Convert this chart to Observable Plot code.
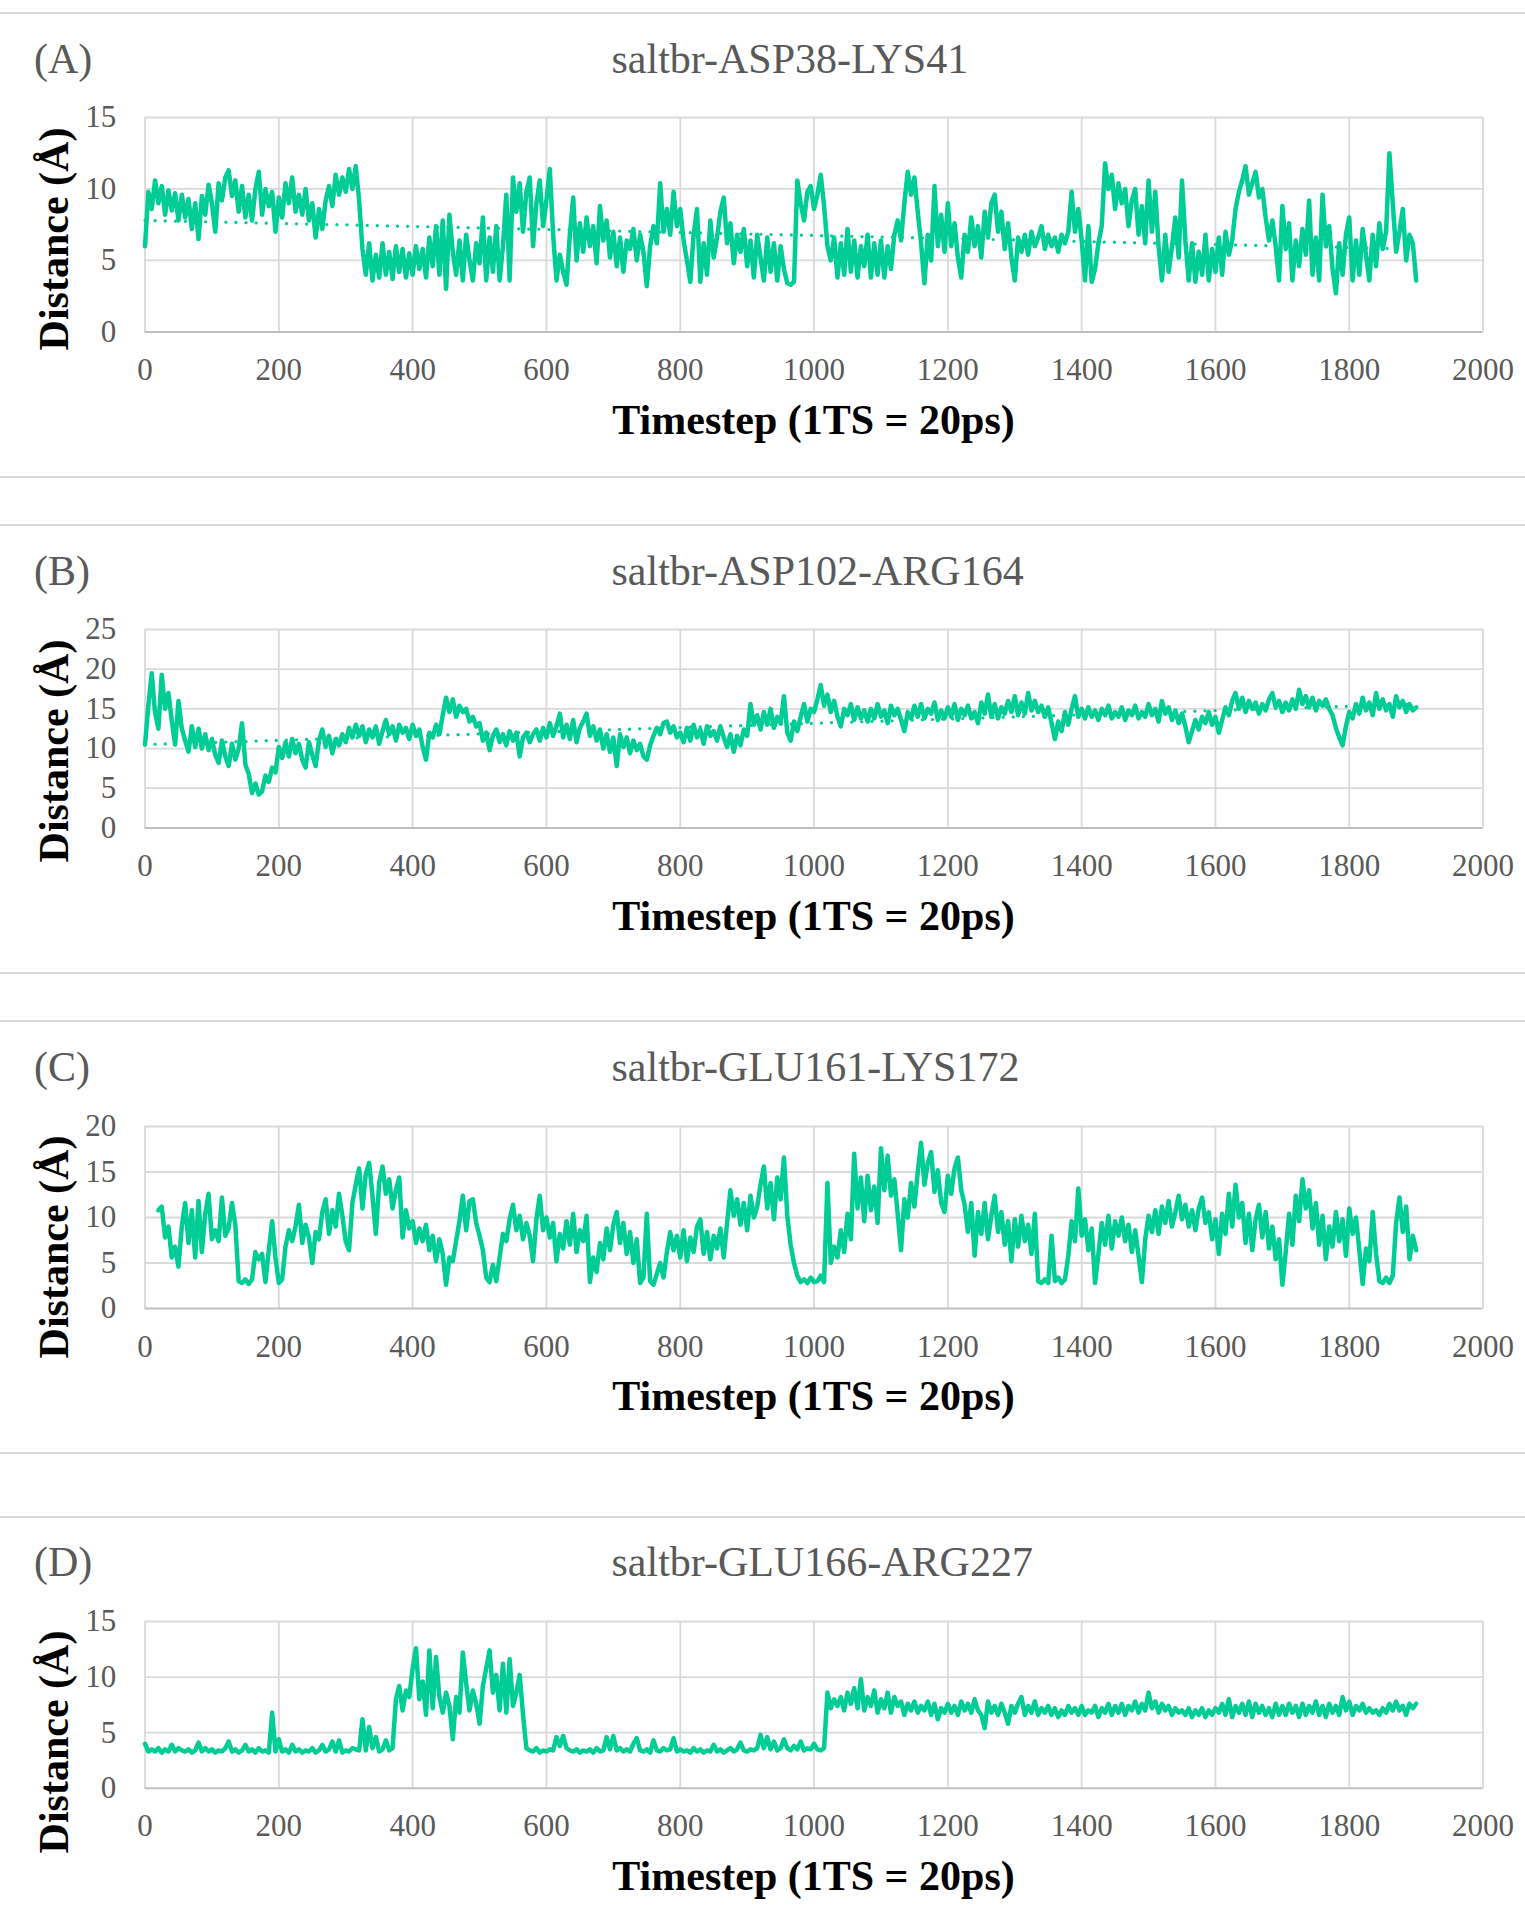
<!DOCTYPE html>
<html><head><meta charset="utf-8">
<script src="https://cdn.jsdelivr.net/npm/d3@7"></script>
<script src="https://cdn.jsdelivr.net/npm/@observablehq/plot@0.6"></script>
<style>
html,body{margin:0;padding:0;background:#fff;}
#root{position:relative;width:1525px;height:1917px;overflow:hidden;background:#fff;font-family:"Liberation Serif","Times New Roman",serif;}
.sep{position:absolute;left:0;width:1525px;height:2px;background:#d9d9d9;}
.lbl{position:absolute;font-size:42px;color:#595959;line-height:1;white-space:nowrap;}
.xt{position:absolute;font-size:42px;font-weight:bold;color:#000;line-height:1;white-space:nowrap;transform:translateX(-50%);}
.yt{position:absolute;font-size:42px;font-weight:bold;color:#000;line-height:1;white-space:nowrap;transform:translate(-50%,-50%) rotate(-90deg);}
.chart{position:absolute;left:0;}
.chart text{font-family:"Liberation Serif","Times New Roman",serif !important;font-size:31px !important;fill:#595959 !important;}
</style>
</head><body><div id="root"></div>
<script>
// ---- data (distance in Å, sampled every STEP timesteps) ----
const STEP = 5;
const xTicks = [0,200,400,600,800,1000,1200,1400,1600,1800,2000];

const titles = ["saltbr-ASP38-LYS41","saltbr-ASP102-ARG164","saltbr-GLU161-LYS172","saltbr-GLU166-ARG227"];
const panelLabels = ["(A)","(B)","(C)","(D)"];
const xTitle = "Timestep (1TS = 20ps)";
const yTitle = "Distance (Å)";

const yTicksA = [0,5,10,15];
const yTicksB = [0,5,10,15,20,25];
const yTicksC = [0,5,10,15,20];
const yTicksD = [0,5,10,15];

const startA = 0;
const distA = [
6.0,9.8,8.6,10.6,9.0,10.2,8.2,9.9,8.5,9.7,7.8,
9.6,8.0,9.3,7.2,9.0,6.5,9.5,8.2,10.3,9.0,
7.0,10.4,9.2,10.8,11.3,9.5,10.6,8.4,10.2,8.0,
9.6,7.8,10.0,11.2,8.2,10.0,8.8,9.8,7.0,9.4,
8.0,10.4,9.0,10.8,8.4,9.6,8.2,10.0,7.8,9.0,
6.6,8.6,7.2,9.2,10.2,8.8,11.0,9.6,10.8,9.8,
11.4,10.0,11.6,9.2,5.8,4.0,6.2,3.6,5.4,3.8,
6.2,4.0,5.6,3.7,6.0,4.2,5.8,3.8,5.5,4.0,
6.0,4.4,5.8,3.8,6.6,4.6,7.4,4.0,7.8,3.0,
8.2,5.6,4.0,6.4,3.6,6.8,5.0,3.6,6.2,4.8,
8.0,3.6,6.6,4.2,7.4,3.6,6.0,9.6,3.6,10.8,
8.4,10.4,7.0,9.8,10.8,6.0,9.0,10.6,7.4,9.2,
11.4,6.8,3.6,5.4,4.2,3.3,6.8,9.4,5.0,7.6,
5.6,8.0,6.0,7.4,4.8,8.8,6.4,7.8,5.2,7.0,
4.6,6.6,4.2,6.4,5.8,7.2,5.0,6.8,5.6,3.2,
6.0,7.4,6.2,10.4,7.0,8.6,6.8,9.8,7.4,8.6,
6.4,5.0,3.5,6.8,8.6,3.5,6.2,4.0,7.8,5.2,
6.6,8.4,9.4,6.2,7.6,4.8,6.8,5.6,7.2,4.6,
6.4,3.8,6.8,5.2,3.6,6.6,4.2,6.2,3.6,6.0,
4.4,3.4,3.3,3.5,10.6,9.0,7.8,9.8,10.2,8.6,
9.6,11.0,8.8,6.0,5.0,6.6,3.8,6.2,4.0,7.2,
4.2,6.4,3.8,6.0,4.6,6.8,3.8,6.2,4.0,6.4,
3.8,6.0,4.4,6.8,7.8,6.4,9.0,11.2,9.6,10.8,
8.4,6.2,3.4,6.8,5.0,10.2,6.0,8.2,5.6,9.0,
6.0,7.6,5.2,3.8,6.8,5.6,8.0,6.0,7.4,5.2,
8.4,6.6,9.0,9.6,7.0,8.4,5.8,7.6,5.2,3.6,
6.6,5.6,6.8,5.4,7.0,6.0,6.6,7.4,5.8,6.8,
6.0,6.6,5.6,6.8,6.2,7.0,9.8,7.0,8.6,6.4,
3.6,7.4,3.5,4.4,6.2,7.4,11.8,10.0,11.0,8.6,
10.4,9.0,10.0,7.4,9.2,10.0,6.8,8.8,6.2,10.6,
7.0,9.8,6.0,3.6,6.8,4.2,6.0,8.0,5.2,10.6,
6.4,3.6,6.2,3.5,5.6,4.0,6.8,3.6,5.8,4.2,
6.6,4.0,7.0,5.4,6.4,8.6,9.8,10.6,11.6,9.6,
10.4,11.2,9.4,10.0,8.0,6.4,7.8,6.0,3.6,8.8,
5.8,7.6,3.6,6.4,4.6,7.2,5.4,9.2,4.0,6.6,
3.6,9.6,6.0,7.4,4.4,2.7,6.2,4.0,6.8,8.0,
3.6,6.4,4.0,7.2,5.4,3.6,6.8,4.6,7.6,5.8,
7.0,12.5,9.0,5.6,7.0,8.6,5.0,6.8,6.2,3.6
];
const trendATs = [0,1900];
const trendAVals = [7.8,5.8];

const startB = 0;
const distB = [
10.5,15.5,19.5,14.5,12.5,19.3,15.0,17.0,13.5,10.5,16.0,
12.5,11.0,9.6,12.8,10.2,12.5,10.0,11.8,9.8,11.2,
9.2,8.2,11.0,9.0,7.8,10.6,8.6,10.0,13.2,8.0,
6.8,4.4,5.6,4.2,4.6,6.6,5.8,7.6,7.0,10.2,
8.8,10.8,9.0,11.2,9.4,10.6,8.6,7.6,10.8,9.2,
7.8,11.0,12.4,10.2,11.6,9.4,11.2,10.4,11.8,10.8,
12.6,11.4,13.0,11.6,12.8,10.8,12.4,11.4,12.8,10.6,
12.2,13.6,11.8,12.8,11.0,13.0,12.0,12.6,11.2,13.0,
11.6,12.4,10.2,8.6,12.0,11.4,13.0,11.8,14.2,16.4,
14.6,16.2,14.0,15.4,14.6,15.0,13.4,14.0,12.8,13.2,
11.0,12.0,9.8,11.6,12.4,10.8,11.8,10.4,12.2,11.0,
12.0,9.0,11.4,12.0,10.8,11.8,12.4,11.0,12.6,11.4,
13.2,11.6,12.8,14.4,11.4,13.0,11.2,13.6,10.8,12.6,
13.4,14.4,11.6,12.8,11.0,12.4,10.0,11.8,9.6,11.4,
7.8,11.8,10.2,11.4,9.4,11.0,9.8,10.6,9.0,8.6,
10.4,11.6,12.6,11.8,13.2,13.4,12.0,12.8,11.4,12.0,
10.8,12.6,11.0,13.0,11.4,12.4,10.6,12.8,11.6,12.2,
11.0,12.8,11.4,10.2,11.8,9.6,11.6,10.4,12.4,11.6,
15.6,13.0,14.2,12.4,14.6,13.0,15.0,12.6,14.0,13.2,
16.6,12.0,11.0,13.4,12.2,14.0,15.6,13.4,15.0,14.6,
16.2,18.0,15.4,16.8,14.6,16.0,14.0,12.8,15.0,14.2,
15.6,13.6,15.2,13.8,14.8,13.4,15.0,13.8,15.6,14.0,
14.8,13.2,15.4,14.2,15.0,13.6,12.2,14.6,13.8,15.4,
14.0,15.6,13.8,15.0,14.4,15.8,13.6,14.8,13.8,15.2,
14.0,15.6,13.6,15.0,14.2,15.4,13.8,14.6,13.2,15.8,
14.4,16.8,14.0,15.6,13.8,15.2,14.4,16.0,14.6,16.6,
14.2,15.8,14.4,17.0,14.8,16.0,14.6,15.4,14.0,15.2,
13.2,11.2,13.4,12.2,14.6,13.0,15.0,16.6,14.0,15.0,
13.8,15.2,14.0,14.8,13.6,15.0,14.2,15.4,13.8,14.6,
14.0,15.2,13.6,14.8,14.2,15.4,13.8,14.6,14.0,15.6,
14.2,15.0,13.4,16.0,14.4,15.2,13.6,14.8,13.2,14.4,
12.8,10.8,12.2,13.6,12.4,14.0,13.2,14.6,13.0,14.0,
12.0,13.6,15.2,14.2,16.0,17.0,15.0,16.4,14.6,16.0,
15.0,15.8,14.4,15.6,14.8,16.2,17.0,15.2,16.0,14.6,
15.8,14.8,16.2,15.0,17.4,15.6,16.6,15.2,16.4,14.8,
16.0,15.4,16.2,15.0,14.2,12.6,11.4,10.4,12.8,14.6,
13.8,15.6,14.4,16.4,14.8,15.8,14.2,17.0,15.0,16.2,
14.8,15.6,14.0,16.6,15.2,16.0,14.6,15.6,14.8,15.2
];
const trendBTs = [0,1900];
const trendBVals = [10.5,15.6];

const startC = 20;
const distC = [
10.8,11.2,7.8,9.0,5.6,6.8,4.6,9.0,11.6,7.2,10.8,5.6,11.8,6.2,10.4,12.6,7.6,
8.6,7.4,12.2,8.0,8.8,11.6,9.2,3.0,2.8,3.2,
2.7,3.2,6.2,5.4,6.0,2.9,6.4,9.6,5.6,2.8,
3.2,6.8,8.6,7.4,9.0,11.4,7.2,9.2,7.8,5.0,
8.4,7.6,10.6,12.0,8.2,10.8,9.0,12.6,10.2,7.4,
6.4,11.6,13.6,15.4,11.0,14.8,16.0,12.4,8.2,13.8,
15.6,12.6,14.2,11.0,13.0,14.4,7.8,10.8,8.8,9.6,
7.2,8.8,7.4,9.2,6.4,8.0,5.2,7.6,6.0,2.6,
5.6,5.2,7.4,9.6,12.4,8.6,11.8,12.0,9.4,8.0,
6.4,3.4,2.9,4.8,3.0,5.6,8.2,7.4,9.8,11.4,
8.6,10.2,7.6,9.4,8.0,5.2,9.8,12.4,8.6,10.0,
7.8,9.4,5.2,8.2,6.6,9.6,7.0,10.4,6.2,8.6,
7.4,10.2,2.9,5.6,4.0,7.2,5.4,8.8,6.4,9.2,
10.6,7.2,9.4,6.0,8.4,5.0,7.6,2.8,3.4,10.4,
3.0,2.6,3.8,5.0,3.4,6.2,8.4,6.4,8.0,5.6,
8.6,5.2,7.8,6.2,9.0,9.8,6.0,8.4,5.4,8.0,
6.6,8.8,5.6,9.4,13.0,10.2,12.0,9.2,11.6,8.6,
12.4,10.0,11.2,13.6,15.6,11.0,13.8,9.8,14.4,12.0,
16.6,10.2,7.0,5.0,3.6,2.9,3.2,2.8,3.4,2.9,
3.0,3.6,2.9,13.8,5.0,6.8,5.6,8.6,6.2,10.4,
7.6,17.0,11.0,14.4,9.6,14.6,10.8,13.4,9.4,17.6,
13.0,16.8,12.4,14.2,10.4,6.4,12.0,10.0,13.8,11.2,
15.0,18.2,13.6,16.0,17.2,12.8,15.2,11.6,10.6,14.6,
12.6,15.4,16.6,13.0,11.4,8.4,11.6,5.8,10.6,8.2,
11.6,7.6,10.2,12.4,8.4,10.6,7.0,9.6,5.2,9.8,
6.8,10.2,7.4,9.2,6.0,10.4,3.0,2.8,3.2,2.8,
8.0,3.0,3.4,2.8,3.2,5.8,9.6,7.4,13.2,8.0,
9.8,6.4,8.8,2.8,6.0,9.4,7.0,10.2,6.6,9.6,
8.0,10.0,7.4,9.2,6.2,8.6,5.8,2.9,7.6,10.2,
8.4,10.8,8.2,11.2,9.4,11.8,9.0,10.6,12.4,9.8,
11.4,9.0,10.8,8.6,11.0,12.2,9.4,10.6,7.6,9.8,
6.0,10.4,8.2,12.6,9.0,13.6,10.0,11.6,7.2,10.4,
6.4,9.8,11.4,7.8,10.6,6.6,9.0,5.4,7.6,2.6,
6.2,10.4,7.0,12.4,9.6,14.2,11.0,13.0,8.8,11.6,
7.0,10.2,5.4,9.0,6.8,10.6,7.4,9.8,5.8,11.0,
8.2,10.0,6.4,2.7,6.6,5.2,10.6,6.0,3.0,2.8,
3.4,2.8,3.6,9.4,12.2,8.4,11.2,5.4,8.0,6.4
];

const startD = 0;
const distD = [
4.0,3.3,3.5,3.3,3.6,3.2,3.5,3.3,3.9,3.3,
3.6,3.4,3.3,3.5,3.2,3.4,4.1,3.3,3.6,3.3,
3.5,3.2,3.4,3.3,3.6,4.2,3.3,3.5,3.2,3.4,
3.9,3.3,3.5,3.2,3.6,3.3,3.4,3.2,6.8,3.3,
4.4,3.3,3.5,3.2,3.9,3.3,3.5,3.2,3.4,3.3,
3.6,3.2,3.4,3.9,3.3,3.5,4.2,3.3,4.3,3.2,
3.4,3.3,3.6,3.5,3.4,6.2,3.4,5.5,3.6,4.6,
3.3,3.5,4.3,3.4,3.6,8.0,9.2,7.0,8.8,8.2,
10.8,12.6,8.0,9.6,6.6,12.4,7.2,11.8,8.2,6.8,
8.6,7.4,4.4,8.2,6.8,12.2,9.4,7.0,8.8,7.6,
5.8,9.2,10.8,12.4,8.6,10.2,7.0,11.2,6.8,11.6,
7.4,8.6,10.2,6.6,3.6,3.4,3.3,3.6,3.2,3.4,
3.3,3.5,3.4,4.6,3.8,4.7,3.6,3.4,3.3,3.5,
3.2,3.4,3.3,3.5,3.2,3.6,3.3,3.4,4.6,3.5,
4.7,3.4,3.6,3.3,3.5,3.3,4.0,4.5,3.4,3.3,
3.5,3.2,4.3,3.4,3.3,3.6,3.4,3.5,4.5,3.3,
3.5,3.3,3.4,3.2,3.6,3.3,3.5,3.2,3.4,3.3,
3.9,3.3,3.5,3.2,3.4,3.6,3.3,3.5,4.1,3.4,
3.3,3.5,3.4,3.6,4.8,3.6,4.6,3.5,4.2,3.4,
3.6,4.4,3.6,3.4,3.8,3.5,4.2,3.4,3.6,3.5,
4.0,3.5,3.4,3.6,8.6,7.2,8.0,7.4,8.2,7.0,
8.6,7.6,9.0,7.2,9.8,7.0,8.2,7.4,8.8,6.8,
8.0,7.2,8.6,6.8,8.2,7.4,7.8,6.6,7.6,7.0,
7.8,6.8,7.4,7.0,7.8,6.6,7.6,6.2,7.2,6.8,
7.6,6.8,7.4,6.6,7.8,7.0,7.6,6.8,8.0,7.0,
6.6,5.4,7.8,6.8,7.4,6.6,7.6,6.8,5.8,7.4,
6.8,7.6,8.2,6.6,7.4,6.8,7.8,6.6,7.2,6.8,
7.4,6.6,7.2,6.4,7.0,6.6,7.4,6.8,7.2,6.6,
7.4,6.6,7.0,6.8,7.4,6.4,7.2,6.8,7.6,6.6,
7.4,6.8,7.6,6.6,7.4,7.0,7.8,6.8,7.6,7.0,
8.6,7.2,7.8,6.8,7.6,7.0,7.4,6.6,7.2,6.8,
7.0,6.6,7.2,6.4,7.0,6.6,7.2,6.4,7.0,6.6,
7.2,6.8,7.6,6.6,8.0,6.4,7.4,6.8,7.6,6.6,
7.8,6.4,7.6,6.8,7.4,6.6,7.2,6.4,7.6,6.6,
7.4,6.6,7.6,6.8,7.4,6.4,7.6,6.6,7.4,6.8,
7.8,6.6,7.4,6.4,7.6,6.8,7.4,6.6,8.2,7.0,
7.8,6.6,7.4,7.0,7.6,6.8,7.2,6.8,7.0,6.6,
7.2,6.8,7.6,7.0,7.8,7.0,7.4,6.6,7.6,7.2,
7.6
];

// ---- layout ----
const W = 1525;
const GREEN = "#00CC96";
const root = document.getElementById("root");

const separators = [12.3, 475.7, 524, 972.3, 1019.7, 1451.7, 1515.7];
for (const y of separators) {
  const d = document.createElement("div");
  d.className = "sep"; d.style.top = y + "px";
  root.appendChild(d);
}

const panels = [
  {vals: distA, start: startA, yMax: 15, yTicks: yTicksA, tTs: trendATs, tVals: trendAVals, top: 117.3, bottom: 331.7},
  {vals: distB, start: startB, yMax: 25, yTicks: yTicksB, tTs: trendBTs, tVals: trendBVals, top: 629.3, bottom: 827.7},
  {vals: distC, start: startC, yMax: 20, yTicks: yTicksC, tTs: null, tVals: null, top: 1125.7, bottom: 1307.7},
  {vals: distD, start: startD, yMax: 15, yTicks: yTicksD, tTs: null, tVals: null, top: 1621, bottom: 1787.7}
];

const ML = 144.5, MR = 42.4, MT = 20, MB = 64;
const FS = 42, BASE = 0.8375 * FS; // baseline offset within line box

panels.forEach((p, k) => {
  const data = p.vals.map((v, i) => ({t: p.start + i * STEP, d: v}));
  const trend = p.tTs ? p.tTs.map((t, i) => ({t, d: p.tVals[i]})) : [];
  const h = p.bottom - p.top;
  const chart = Plot.plot({
    width: W,
    height: MT + h + MB,
    marginLeft: ML, marginRight: MR, marginTop: MT, marginBottom: MB,
    style: {fontFamily: "'Liberation Serif','Times New Roman',serif", fontSize: "31px", color: "#595959", background: "transparent"},
    x: {domain: [0, 2000], ticks: xTicks, tickSize: 0, tickPadding: 26, label: null, tickFormat: d => String(d)},
    y: {domain: [0, p.yMax], ticks: p.yTicks, tickSize: 0, tickPadding: 28.7, label: null, tickFormat: d => String(d)},
    marks: [
      Plot.ruleX(xTicks, {stroke: "#d9d9d9", strokeWidth: 1.8}),
      Plot.ruleY(p.yTicks.filter(v => v > 0), {stroke: "#d9d9d9", strokeWidth: 1.8}),
      Plot.ruleY([0], {stroke: "#bfbfbf", strokeWidth: 2}),
      Plot.line(data, {x: "t", y: "d", stroke: GREEN, strokeWidth: 4.5, strokeLinejoin: "round"}),
      Plot.line(trend, {x: "t", y: "d", stroke: GREEN, strokeWidth: 3.2, strokeDasharray: "0.1 10", strokeLinecap: "round"})
    ]
  });
  chart.classList.add("chart");
  chart.style.top = (p.top - MT) + "px";
  root.appendChild(chart);

  const titleBase = p.top - 44.6;
  const lab = document.createElement("div");
  lab.className = "lbl"; lab.textContent = panelLabels[k];
  lab.style.left = "34px"; lab.style.top = (titleBase - BASE) + "px";
  root.appendChild(lab);

  const tt = document.createElement("div");
  tt.className = "lbl"; tt.textContent = titles[k];
  tt.style.left = "611.5px"; tt.style.top = (titleBase - BASE) + "px";
  root.appendChild(tt);

  const xt = document.createElement("div");
  xt.className = "xt"; xt.textContent = xTitle;
  xt.style.left = ((ML + W - MR) / 2) + "px";
  xt.style.top = (p.bottom + 102 - BASE) + "px";
  root.appendChild(xt);

  const yt = document.createElement("div");
  yt.className = "yt"; yt.textContent = yTitle;
  yt.style.left = "53.5px";
  yt.style.top = (p.top + 121.2) + "px";
  root.appendChild(yt);
});
</script>
</body></html>
